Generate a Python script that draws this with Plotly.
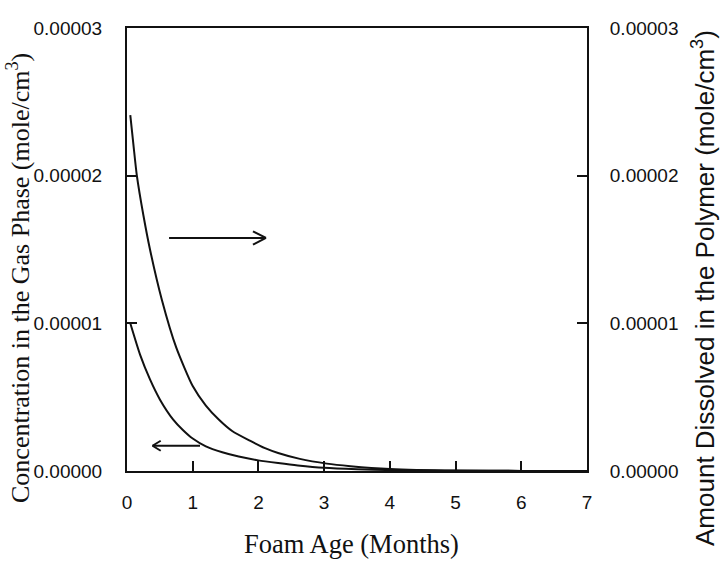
import plotly.graph_objects as go

# ---- data ----
gas_months = [0.05, 0.2, 0.35, 0.5, 0.7, 0.85, 1.0, 1.2, 1.45, 1.7, 2.0, 2.3, 2.6, 3.0, 3.5, 4.0, 5.0, 6.0, 7.0]
gas_conc = [1.00e-5, 0.786e-5, 0.62e-5, 0.485e-5, 0.35e-5, 0.278e-5, 0.22e-5, 0.167e-5, 0.127e-5,
            0.098e-5, 0.072e-5, 0.054e-5, 0.038e-5, 0.022e-5, 0.012e-5, 0.006e-5, 0.002e-5, 0.0007e-5, 0.0002e-5]

dis_months = [0.05, 0.1, 0.15, 0.25, 0.35, 0.53, 0.75, 1.0, 1.2, 1.4, 1.6, 1.87, 2.1, 2.3, 2.63, 3.04, 3.4,
              4.0, 5.0, 6.0, 7.0]
dis_amount = [2.41e-5, 2.2e-5, 2.0e-5, 1.73e-5, 1.50e-5, 1.16e-5, 0.835e-5, 0.575e-5, 0.443e-5, 0.347e-5,
              0.271e-5, 0.205e-5, 0.155e-5, 0.122e-5, 0.082e-5, 0.05e-5, 0.033e-5, 0.014e-5, 0.003e-5,
              0.0008e-5, 0.0002e-5]

x_ticks = [0, 1, 2, 3, 4, 5, 6, 7]
y_ticks = [0, 1e-5, 2e-5, 3e-5]
y_tick_text = ["0.00000", "0.00001", "0.00002", "0.00003"]

# arrow annotations (data coordinates)
arrow_right = dict(x0=0.64, x1=2.115, y=1.578e-5, dx=0.198, dy=0.045e-5)
arrow_left = dict(x0=1.111, x1=0.388, y=0.171e-5, dx=0.125, dy=0.034e-5)

BLACK = "#111111"
SANS = "Liberation Sans, Arial, sans-serif"
SERIF = "Liberation Serif, Times New Roman, serif"

fig = go.Figure()
fig.add_trace(go.Scatter(x=gas_months, y=gas_conc, mode="lines",
                         line=dict(color=BLACK, width=2, shape="spline", smoothing=0.6),
                         showlegend=False, yaxis="y"))
fig.add_trace(go.Scatter(x=dis_months, y=dis_amount, mode="lines",
                         line=dict(color=BLACK, width=2, shape="spline", smoothing=0.6),
                         showlegend=False, yaxis="y2"))

shapes = []
for a in (arrow_right, arrow_left):
    shapes.append(dict(type="line", xref="x", yref="y", x0=a["x0"], x1=a["x1"], y0=a["y"], y1=a["y"],
                       line=dict(color=BLACK, width=2)))
    sgn = 1 if a["x1"] > a["x0"] else -1
    for s in (1, -1):
        shapes.append(dict(type="line", xref="x", yref="y", x0=a["x1"] - sgn * a["dx"], x1=a["x1"],
                           y0=a["y"] + s * a["dy"], y1=a["y"], line=dict(color=BLACK, width=2)))

tickfont = dict(family=SANS, size=19, color=BLACK)
fig.update_layout(
    width=724, height=562,
    margin=dict(l=127, r=137, t=28, b=91),
    paper_bgcolor="white", plot_bgcolor="white",
    shapes=shapes,
    xaxis=dict(range=[0, 7], tickvals=x_ticks, ticks="inside", ticklen=10, tickwidth=1.5,
               tickcolor=BLACK, showline=True, linecolor=BLACK, linewidth=2, mirror=True,
               showgrid=False, zeroline=False, tickfont=tickfont, ticklabelstandoff=13),
    yaxis=dict(range=[0, 3e-5], tickvals=y_ticks, ticktext=y_tick_text, ticks="inside", ticklen=10,
               tickwidth=1.5, tickcolor=BLACK, showline=True, linecolor=BLACK, linewidth=2,
               showgrid=False, zeroline=False, tickfont=tickfont, ticklabelstandoff=19),
    yaxis2=dict(range=[0, 3e-5], tickvals=y_ticks, ticktext=y_tick_text, ticks="inside", ticklen=10,
                tickwidth=1.5, tickcolor=BLACK, showline=True, linecolor=BLACK, linewidth=2,
                overlaying="y", side="right", showgrid=False, zeroline=False, tickfont=tickfont,
                ticklabelstandoff=17),
    annotations=[
        dict(text="Concentration in the Gas Phase (mole/cm<sup>3</sup>)", xref="paper", yref="paper",
             x=(18 - 127) / 460, y=(471 - 278) / 443, xanchor="center", yanchor="middle",
             textangle=-90, showarrow=False, font=dict(family=SERIF, size=26, color=BLACK)),
        dict(text="Amount Dissolved in the Polymer (mole/cm<sup>3</sup>)", xref="paper", yref="paper",
             x=(704 - 127) / 460, y=(471 - 288) / 443, xanchor="center", yanchor="middle",
             textangle=-90, showarrow=False, font=dict(family=SANS, size=26, color=BLACK)),
        dict(text="Foam Age (Months)", xref="paper", yref="paper",
             x=(351.5 - 127) / 460, y=(471 - 544) / 443, xanchor="center", yanchor="middle",
             showarrow=False, font=dict(family=SERIF, size=26.5, color=BLACK)),
    ],
)

fig.write_html("out.html")
